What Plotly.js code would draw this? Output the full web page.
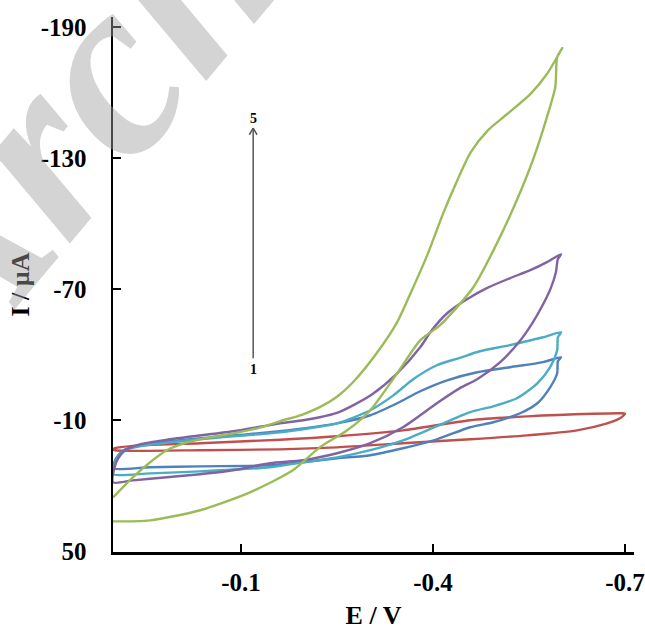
<!DOCTYPE html>
<html>
<head>
<meta charset="utf-8">
<script src="https://cdn.plot.ly/plotly-3.0.1.min.js"></script>
<style>html,body{margin:0;padding:0;background:#fff;}#chart{width:645px;height:630px;}</style>
</head>
<body>
<div id="chart"></div>
<script>
// Scan labels (1 = first, 5 = last)
const scanNames = ["1", "2", "3", "4", "5"];
const scanColors = ["#C0504D", "#4F81BD", "#4BACC6", "#8064A2", "#9BBB59"];

// Scan 1 (red)
const E_1 = [0.1, 0.097, 0.069, -0.036, -0.161, -0.25, -0.353, -0.458, -0.547, -0.65, -0.695, -0.7, -0.692, -0.672, -0.625, -0.547, -0.458, -0.353, -0.25, -0.161, -0.036, 0.069, 0.097, 0.1];
const I_1 = [3.3, 2.8, 1.7, 0.5, -1.1, -2.7, -5.4, -10.0, -11.8, -13.0, -13.2, -13.0, -10.9, -8.6, -5.4, -3.1, -1.3, 0.5, 2.4, 3.3, 3.7, 4.0, 3.7, 3.5];

// Scan 2 (blue)
const E_2 = [0.1, 0.098, 0.092, 0.081, 0.058, 0.011, -0.088, -0.145, -0.197, -0.25, -0.302, -0.344, -0.38, -0.422, -0.469, -0.52, -0.572, -0.6, -0.595, -0.594, -0.583, -0.563, -0.536, -0.494, -0.458, -0.406, -0.353, -0.302, -0.25, -0.197, -0.145, -0.036, 0.042, 0.1];
const I_2 = [12.0, 9.2, 6.0, 3.3, 1.5, -0.4, -3.1, -4.5, -6.3, -8.6, -12.3, -17.8, -23.3, -28.3, -32.0, -34.3, -36.6, -38.9, -37.0, -31.5, -25.1, -17.8, -13.2, -9.1, -6.8, -1.3, 2.8, 6.0, 7.4, 9.2, 10.6, 11.1, 11.5, 12.0];

// Scan 3 (cyan)
const E_3 = [0.1, 0.098, 0.092, 0.081, 0.058, 0.011, -0.088, -0.145, -0.197, -0.25, -0.302, -0.338, -0.369, -0.406, -0.442, -0.473, -0.52, -0.572, -0.6, -0.595, -0.594, -0.583, -0.563, -0.531, -0.494, -0.458, -0.406, -0.353, -0.302, -0.25, -0.197, -0.145, -0.036, 0.042, 0.1];
const I_3 = [14.7, 10.2, 6.5, 3.7, 1.9, 0.1, -2.7, -4.0, -5.9, -8.6, -14.6, -21.4, -28.8, -35.2, -38.6, -41.6, -44.4, -48.0, -50.3, -48.0, -42.1, -34.3, -26.9, -20.1, -16.4, -13.7, -7.3, -0.8, 3.7, 7.0, 9.2, 11.5, 13.4, 14.3, 14.7];

// Scan 4 (purple)
const E_4 = [0.1, 0.098, 0.092, 0.081, 0.058, 0.011, -0.088, -0.161, -0.197, -0.223, -0.25, -0.278, -0.305, -0.344, -0.38, -0.398, -0.422, -0.453, -0.484, -0.52, -0.552, -0.578, -0.6, -0.595, -0.592, -0.584, -0.572, -0.555, -0.534, -0.505, -0.469, -0.442, -0.406, -0.353, -0.302, -0.25, -0.197, -0.145, -0.088, -0.036, 0.016, 0.069, 0.1];
const I_4 = [18.4, 12.0, 7.4, 3.7, 1.0, -1.3, -5.0, -8.6, -10.0, -11.4, -13.4, -17.3, -21.9, -31.5, -43.4, -51.2, -59.0, -65.4, -70.5, -75.0, -78.7, -82.4, -86.0, -83.7, -77.8, -70.5, -63.1, -54.4, -45.7, -36.6, -28.8, -24.7, -17.8, -6.8, 0.5, 5.1, 8.3, 9.7, 12.9, 14.7, 16.1, 17.5, 18.4];

// Scan 5 (green)
const E_5 = [0.1, 0.042, -0.036, -0.114, -0.181, -0.223, -0.266, -0.302, -0.344, -0.38, -0.411, -0.463, -0.5, -0.531, -0.556, -0.578, -0.591, -0.594, -0.602, -0.578, -0.552, -0.516, -0.486, -0.459, -0.438, -0.416, -0.391, -0.367, -0.344, -0.313, -0.275, -0.25, -0.223, -0.195, -0.166, -0.125, -0.088, -0.052, -0.016, 0.016, 0.042, 0.069, 0.1];
const I_5 = [36.3, 35.8, 31.2, 23.0, 12.9, 2.4, -5.4, -14.6, -31.5, -46.6, -53.5, -70.9, -91.1, -110.8, -129.1, -148.8, -162.5, -176.3, -180.4, -168.5, -159.3, -150.2, -142.8, -132.7, -119.9, -104.8, -85.6, -69.5, -54.9, -41.1, -27.4, -20.8, -16.0, -12.5, -10.0, -6.3, -4.0, -2.2, 0.1, 3.7, 9.2, 16.1, 25.3];

// Axis ticks
const xTickVals = [-0.1, -0.4, -0.7];
const xTickText = ["-0.1", "-0.4", "-0.7"];
const yTickVals = [-190, -130, -70, -10, 50];
const yTickText = ["-190", "-130", "-70", "-10", "50"];

const Es = [E_1, E_2, E_3, E_4, E_5];
const Is = [I_1, I_2, I_3, I_4, I_5];

const traces = Es.map((E, k) => ({
  x: E, y: Is[k], type: "scatter", mode: "lines", name: scanNames[k],
  line: {color: scanColors[k], width: 2.4, shape: "spline", smoothing: 0.7},
  hoverinfo: "skip"
}));

// arrow (scan direction) position in data units
const arrowE = -0.119, arrowFrom = -38.4, arrowTo = -143.7;

const font = {family: "Liberation Serif, Times New Roman, serif", color: "#000"};

const layout = {
  width: 645, height: 630,
  margin: {l: 113, r: 11, t: 17, b: 78, pad: 0},
  paper_bgcolor: "#fff", plot_bgcolor: "#fff",
  showlegend: false,
  xaxis: {
    range: [0.1, -0.714], tickvals: xTickVals, ticktext: xTickText,
    ticks: "inside", ticklen: 8, tickwidth: 2, tickcolor: "#000",
    showline: true, linecolor: "#000", linewidth: 2.5, showgrid: false, zeroline: false,
    tickfont: Object.assign({size: 25, weight: "bold"}, font),
    ticklabelstandoff: 6,
    title: {text: "E / V", font: Object.assign({size: 26, weight: "bold"}, font), standoff: 14}
  },
  yaxis: {
    range: [50.3, -194.6], tickvals: yTickVals, ticktext: yTickText,
    ticks: "inside", ticklen: 8, tickwidth: 2, tickcolor: "#000",
    showline: true, linecolor: "#000", linewidth: 2.5, showgrid: false, zeroline: false,
    tickfont: Object.assign({size: 25, weight: "bold"}, font),
    ticklabelstandoff: 19,
    title: {text: "I / µA", font: Object.assign({size: 26, weight: "bold"}, font), standoff: 4}
  },
  shapes: [
    {type: "line", xref: "x", yref: "y", x0: arrowE, x1: arrowE, y0: arrowFrom, y1: arrowTo, line: {color: "#555", width: 1.5}},
    {type: "line", xref: "x", yref: "y", x0: arrowE - 0.006, x1: arrowE, y0: arrowTo + 3, y1: arrowTo, line: {color: "#555", width: 1.5}},
    {type: "line", xref: "x", yref: "y", x0: arrowE + 0.006, x1: arrowE, y0: arrowTo + 3, y1: arrowTo, line: {color: "#555", width: 1.5}}
  ],
  annotations: [
    {x: arrowE, y: arrowFrom, xref: "x", yref: "y", yanchor: "top", yshift: -2, text: "1", showarrow: false, font: Object.assign({size: 14, weight: "bold"}, font)},
    {x: arrowE, y: arrowTo, xref: "x", yref: "y", yanchor: "bottom", yshift: 0, text: "5", showarrow: false, font: Object.assign({size: 14, weight: "bold"}, font)},
    {x: 0.073, y: 1.0075, xref: "paper", yref: "paper", xanchor: "center", yanchor: "middle", text: "Archive", showarrow: false, textangle: -50,
     font: {family: "Liberation Serif, serif", size: 255, style: "italic", weight: "bold", color: "rgba(160,160,160,0.45)"}}
  ]
};

Plotly.newPlot("chart", traces, layout, {displayModeBar: false, staticPlot: true});
</script>
</body>
</html>
